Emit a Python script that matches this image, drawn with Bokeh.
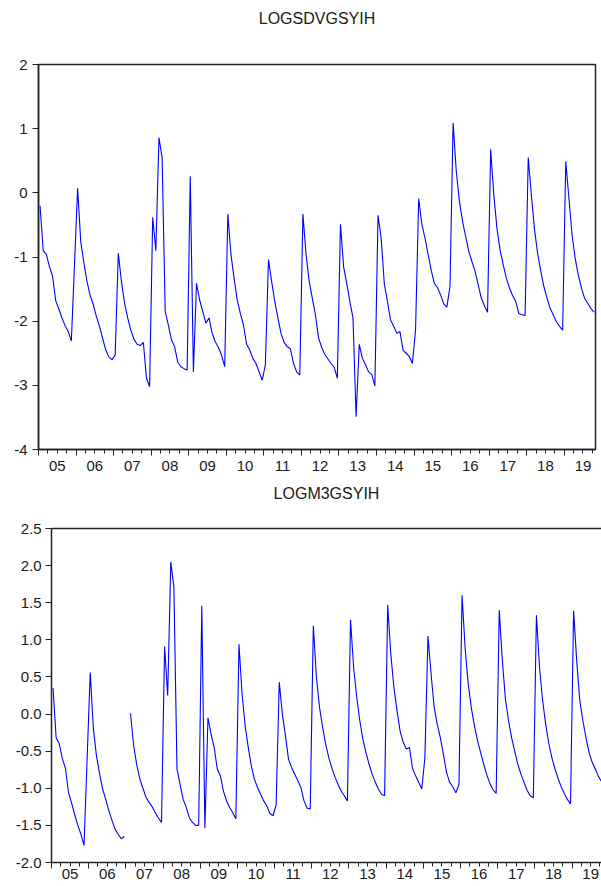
import math
from bokeh.plotting import figure
from bokeh.models import (ColumnDataSource, LinearAxis, FixedTicker, Range1d,
                          PrintfTickFormatter)
from bokeh.embed import file_html
from bokeh.resources import INLINE

# ---------------- data ----------------
start_year = 2005
n_months = 178  # 2005M01 .. 2019M10
months = [f"{start_year + k // 12}M{k % 12 + 1:02d}" for k in range(n_months)]
year_labels = [f"{y % 100:02d}" for y in range(2005, 2020)]

logsdvgsyih = [
    -0.20, -0.90, -0.96, -1.15, -1.30, -1.68, -1.81, -1.95, -2.07, -2.16, -2.31, -1.12,
    0.07, -0.76, -1.09, -1.38, -1.60, -1.74, -1.93, -2.08, -2.27, -2.45, -2.56, -2.60,
    -2.53, -0.94, -1.38, -1.72, -1.95, -2.14, -2.28, -2.36, -2.38, -2.33, -2.89, -3.02,
    -0.38, -0.90, 0.86, 0.55, -1.85, -2.06, -2.29, -2.40, -2.64, -2.71, -2.74, -2.76,
    0.26, -2.79, -1.41, -1.67, -1.85, -2.03, -1.95, -2.19, -2.32, -2.41, -2.53, -2.71,
    -0.33, -0.96, -1.33, -1.67, -1.88, -2.06, -2.36, -2.45, -2.58, -2.66, -2.79, -2.92,
    -2.68, -1.04, -1.38, -1.69, -1.95, -2.19, -2.33, -2.40, -2.43, -2.66, -2.79, -2.84,
    -0.33, -0.96, -1.38, -1.64, -1.90, -2.26, -2.41, -2.52, -2.59, -2.66, -2.72, -2.89,
    -0.49, -1.15, -1.41, -1.69, -1.95, -3.49, -2.36, -2.58, -2.68, -2.79, -2.83, -3.01,
    -0.35, -0.70, -1.41, -1.69, -1.98, -2.08, -2.19, -2.16, -2.45, -2.50, -2.55, -2.66,
    -2.13, -0.09, -0.49, -0.70, -0.96, -1.21, -1.41, -1.48, -1.59, -1.73, -1.78, -1.46,
    1.09, 0.34, -0.13, -0.44, -0.68, -0.91, -1.07, -1.22, -1.43, -1.64, -1.76, -1.86,
    0.68, -0.03, -0.55, -0.89, -1.12, -1.33, -1.48, -1.60, -1.69, -1.88, -1.90, -1.91,
    0.55, -0.03, -0.57, -0.94, -1.22, -1.46, -1.64, -1.80, -1.90, -2.01, -2.08, -2.14,
    0.49, -0.08, -0.65, -1.02, -1.28, -1.48, -1.64, -1.72, -1.80, -1.86,
]

NA = float("nan")
logm3gsyih = [
    0.35, -0.32, -0.40, -0.60, -0.73, -1.06, -1.20, -1.36, -1.50, -1.62, -1.77, -0.60,
    0.56, -0.19, -0.56, -0.80, -1.01, -1.15, -1.30, -1.43, -1.55, -1.62, -1.68, -1.65,
    NA, 0.01, -0.42, -0.68, -0.87, -1.00, -1.12, -1.19, -1.25, -1.33, -1.40, -1.46,
    0.91, 0.25, 2.05, 1.71, -0.74, -0.95, -1.15, -1.26, -1.40, -1.46, -1.50, -1.50,
    1.46, -1.54, -0.05, -0.27, -0.45, -0.74, -0.83, -1.04, -1.17, -1.26, -1.33, -1.41,
    0.94, 0.27, -0.16, -0.45, -0.70, -0.88, -0.99, -1.08, -1.17, -1.24, -1.34, -1.37,
    -1.22, 0.43, 0.00, -0.29, -0.61, -0.72, -0.81, -0.90, -0.99, -1.17, -1.27, -1.28,
    1.19, 0.50, 0.09, -0.18, -0.41, -0.59, -0.73, -0.85, -0.95, -1.04, -1.10, -1.17,
    1.27, 0.63, 0.23, -0.09, -0.34, -0.52, -0.68, -0.81, -0.92, -1.01, -1.08, -1.10,
    1.47, 0.81, 0.36, 0.05, -0.23, -0.38, -0.47, -0.45, -0.73, -0.83, -0.92, -1.01,
    -0.59, 1.05, 0.54, 0.09, -0.14, -0.32, -0.55, -0.79, -0.92, -0.98, -1.06, -0.95,
    1.60, 0.88, 0.40, 0.08, -0.16, -0.36, -0.52, -0.68, -0.82, -0.94, -1.02, -1.07,
    1.40, 0.72, 0.20, -0.09, -0.32, -0.50, -0.68, -0.81, -0.92, -1.03, -1.10, -1.13,
    1.33, 0.63, 0.18, -0.14, -0.40, -0.59, -0.74, -0.87, -0.98, -1.07, -1.15, -1.21,
    1.39, 0.72, 0.18, -0.09, -0.32, -0.52, -0.65, -0.74, -0.84, -0.91,
]

top_yticks = [-4, -3, -2, -1, 0, 1, 2]
bottom_yticks = [-2.0, -1.5, -1.0, -0.5, 0.0, 0.5, 1.0, 1.5, 2.0, 2.5]

# slot-centred positions of the monthly observations
xpos = [k + 0.5 for k in range(n_months)]
src = ColumnDataSource(dict(x=xpos, month=months, a=logsdvgsyih, b=logm3gsyih))

FONT = "Liberation Sans"
INK = "#1a1a1a"
LINE = "#222222"


def style_yaxis(ax, standoff):
    ax.axis_line_color = LINE
    ax.axis_line_width = 1.5
    ax.major_tick_line_color = LINE
    ax.major_tick_out = 6
    ax.major_tick_in = 0
    ax.minor_tick_line_color = None
    ax.major_label_text_font = FONT
    ax.major_label_text_font_size = "15px"
    ax.major_label_text_color = INK
    ax.major_label_standoff = standoff


def add_xaxes(p, label_standoff):
    edges = list(range(0, 12 * 16, 12))
    quarters = list(range(0, 12 * 16, 3))
    # tick-mark axis (year boundaries long, quarters short), no visible labels
    ax_t = LinearAxis(ticker=FixedTicker(ticks=edges, minor_ticks=quarters))
    ax_t.axis_line_color = LINE
    ax_t.axis_line_width = 1.5
    ax_t.major_tick_line_color = LINE
    ax_t.minor_tick_line_color = LINE
    ax_t.major_tick_out = 6
    ax_t.major_tick_in = 0
    ax_t.minor_tick_out = 4
    ax_t.minor_tick_in = 0
    ax_t.major_label_text_color = None
    ax_t.major_label_text_font_size = "1px"
    ax_t.major_label_standoff = 0
    p.add_layout(ax_t, "below")

    # label axis: year labels centred in each year
    mids = [6 + 12 * k for k in range(len(year_labels))]
    ax_l = LinearAxis(ticker=FixedTicker(ticks=mids, minor_ticks=[]),
                      major_label_overrides={m: lab for m, lab in zip(mids, year_labels)})
    ax_l.axis_line_color = None
    ax_l.major_tick_line_color = None
    ax_l.minor_tick_line_color = None
    ax_l.major_tick_out = 0
    ax_l.major_tick_in = 0
    ax_l.minor_tick_out = 0
    ax_l.minor_tick_in = 0
    ax_l.major_label_text_font = FONT
    ax_l.major_label_text_font_size = "15px"
    ax_l.major_label_text_color = INK
    ax_l.major_label_standoff = label_standoff
    p.add_layout(ax_l, "below")


def add_title(p, text, standoff, draw_line):
    # an "above" axis without ticks: its line is the frame top, its label the title
    ax = LinearAxis(ticker=FixedTicker(ticks=[], minor_ticks=[]), axis_label=text)
    ax.axis_line_color = LINE if draw_line else None
    ax.axis_line_width = 1.5
    ax.major_tick_line_color = None
    ax.minor_tick_line_color = None
    ax.major_tick_out = 0
    ax.major_tick_in = 0
    ax.minor_tick_out = 0
    ax.minor_tick_in = 0
    ax.major_label_text_color = None
    ax.major_label_text_font_size = "1px"
    ax.major_label_standoff = 0
    ax.axis_label_standoff = standoff
    ax.axis_label_text_font = FONT
    ax.axis_label_text_font_size = "16px"
    ax.axis_label_text_font_style = "normal"
    ax.axis_label_text_color = INK
    p.add_layout(ax, "above")


# ---------------- top panel ----------------
p1 = figure(width=601, height=479, x_range=Range1d(0, n_months), y_range=Range1d(-4, 2),
            x_axis_type=None, y_axis_type=None, toolbar_location=None,
            output_backend="svg", min_border_left=38, min_border_right=6,
            min_border_top=64, min_border_bottom=30)
p1.outline_line_color = LINE
p1.outline_line_width = 1.5
p1.background_fill_color = "white"
p1.border_fill_color = "white"
ya1 = LinearAxis(ticker=FixedTicker(ticks=top_yticks, minor_ticks=[]),
                 formatter=PrintfTickFormatter(format="%d"))
style_yaxis(ya1, 5)
p1.add_layout(ya1, "left")
add_xaxes(p1, 5)
add_title(p1, "LOGSDVGSYIH", 38, False)
p1.line(x="x", y="a", source=src, line_color="#0000FF", line_width=1.1)

# ---------------- bottom panel ----------------
p2 = figure(width=601, height=407, x_range=Range1d(0, 177.5), y_range=Range1d(-2, 2.5),
            x_axis_type=None, y_axis_type=None, toolbar_location=None,
            output_backend="svg", min_border_left=51, min_border_right=0,
            min_border_top=49, min_border_bottom=24)
p2.outline_line_color = None
p2.background_fill_color = "white"
p2.border_fill_color = "white"
ya2 = LinearAxis(ticker=FixedTicker(ticks=bottom_yticks, minor_ticks=[]),
                 formatter=PrintfTickFormatter(format="%.1f"))
style_yaxis(ya2, 4)
p2.add_layout(ya2, "left")
add_xaxes(p2, 0)
add_title(p2, "LOGM3GSYIH", 27, True)
p2.line(x="x", y="b", source=src, line_color="#0000FF", line_width=1.1)

open("out.html", "w").write(file_html([p1, p2], INLINE))
